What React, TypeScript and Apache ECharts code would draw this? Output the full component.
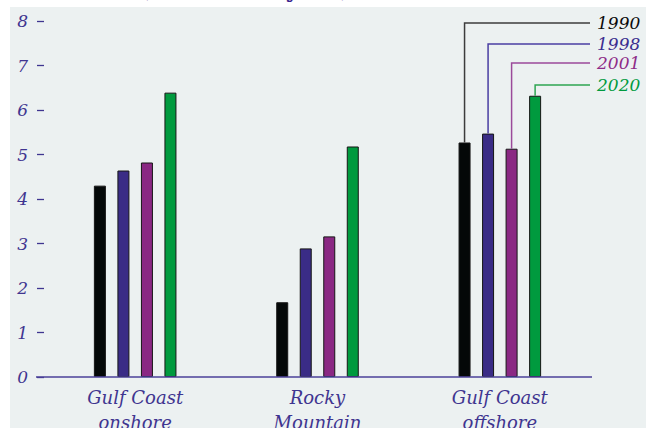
import React, { useEffect, useRef } from "react";
import * as echarts from "echarts";

const categories = ["Gulf Coast\nonshore", "Rocky\nMountain", "Gulf Coast\noffshore"];
const years = ["1990", "1998", "2001", "2020"];
const values1990 = [4.3, 1.68, 5.27];
const values1998 = [4.64, 2.89, 5.47];
const values2001 = [4.82, 3.16, 5.13];
const values2020 = [6.39, 5.18, 6.32];
const seriesValues = [values1990, values1998, values2001, values2020];
const yMin = 0;
const yMax = 8;
const yStep = 1;
const titleText = "(trillion ft³/year)";

const barColors = ["#040808", "#3a2c86", "#8a2883", "#009a3e"];
const leaderColors = ["#3c3c3c", "#4a3ea2", "#9b4a9a", "#2ea552"];
const yearTextColors = ["#0a0a0a", "#3b2e8f", "#8e2c87", "#009a3e"];
const leaderLevels = [23, 44, 63, 85];
const axisColor = "#3f3590";
const FONT = "DejaVu Serif";

export default function App() {
  const ref = useRef<HTMLDivElement>(null);
  useEffect(() => {
    const chart = echarts.init(ref.current as HTMLDivElement, null, { renderer: "svg" });
    const baseGraphic: any[] = [
      {
        id: "bg",
        type: "rect",
        z: -10,
        silent: true,
        shape: { x: 10, y: 7, width: 640, height: 425 },
        style: { fill: "#ecf1f1" },
      },
      {
        id: "title",
        type: "text",
        silent: true,
        x: 138,
        y: -12,
        style: {
          text: titleText,
          font: `bold 23px "${FONT}"`,
          fill: "#3a1f8c",
          verticalAlign: "middle",
          align: "left",
        },
      },
      {
        id: "xaxisline",
        type: "line",
        z: 10,
        silent: true,
        shape: { x1: 36, y1: 377, x2: 592, y2: 377 },
        style: { stroke: "#4b4098", lineWidth: 1.5 },
      },
    ];
    const series = seriesValues.map((vals, i) => ({
      type: "bar",
      name: years[i],
      data: vals,
      barWidth: 12,
      barGap: "96%",
      itemStyle: { color: barColors[i], borderColor: "#161616", borderWidth: 1 },
      emphasis: { disabled: true },
    }));
    chart.setOption({
      animation: false,
      grid: { left: 44, right: 55, top: 21, bottom: 51, outerBoundsMode: "none", containLabel: false },
      xAxis: {
        type: "category",
        data: categories,
        axisLine: { show: false },
        axisTick: { show: false },
        axisLabel: {
          color: axisColor,
          fontFamily: FONT,
          fontStyle: "italic",
          fontSize: 18,
          lineHeight: 25,
          margin: 8,
        },
      },
      yAxis: {
        type: "value",
        min: yMin,
        max: yMax,
        interval: yStep,
        axisLine: { show: false },
        axisTick: { show: true, length: 7, lineStyle: { color: axisColor, width: 1.3 } },
        splitLine: { show: false },
        axisLabel: {
          color: axisColor,
          fontFamily: FONT,
          fontStyle: "italic",
          fontSize: 17,
          margin: 16,
        },
      },
      series,
      graphic: baseGraphic,
    });

    const lastIdx = categories.length - 1;
    const leaders: any[] = [];
    seriesValues.forEach((vals, i) => {
      let cx = 0;
      let top = 0;
      try {
        const layout = (chart as any).getModel().getSeriesByIndex(i).getData().getItemLayout(lastIdx);
        cx = layout.x + layout.width / 2;
        top = Math.min(layout.y, layout.y + layout.height);
      } catch (e) {
        const p = chart.convertToPixel({ seriesIndex: i }, [lastIdx, vals[lastIdx]]) as number[];
        cx = p[0] + (i - 1.5) * 23.5;
        top = p[1];
      }
      const level = leaderLevels[i];
      leaders.push({
        id: "leader" + i,
        type: "polyline",
        silent: true,
        z: 5,
        shape: { points: [[cx, top], [cx, level], [590, level]] },
        style: { stroke: leaderColors[i], lineWidth: 1.5, fill: null },
      });
      leaders.push({
        id: "year" + i,
        type: "text",
        silent: true,
        z: 5,
        x: 597,
        y: level,
        style: {
          text: years[i],
          font: `italic 17px "${FONT}"`,
          fill: yearTextColors[i],
          verticalAlign: "middle",
          align: "left",
        },
      });
    });
    chart.setOption({ graphic: [...baseGraphic, ...leaders] });

    return () => chart.dispose();
  }, []);
  return (
    <div
      ref={ref}
      style={{ position: "absolute", left: 0, top: 0, width: 646, height: 428, background: "#ffffff" }}
    />
  );
}
